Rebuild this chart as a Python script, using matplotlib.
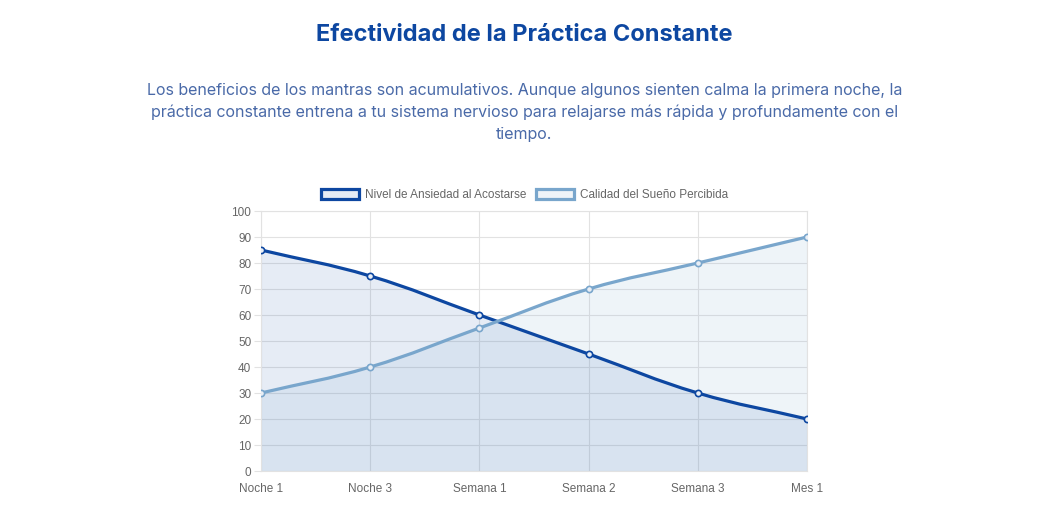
import numpy as np
import matplotlib.pyplot as plt
from matplotlib.path import Path
from matplotlib.patches import PathPatch, Patch

labels = ["Noche 1", "Noche 3", "Semana 1", "Semana 2", "Semana 3", "Mes 1"]
ansiedad = [85, 75, 60, 45, 30, 20]
sueno = [30, 40, 55, 70, 80, 90]

dark = "#0d47a1"
light = "#79a6cc"

fig = plt.figure(figsize=(10.49, 5.14), dpi=100)
fig.text(0.5, 0.932, "Efectividad de la Práctica Constante", ha="center", va="center",
         fontsize=17, fontweight="bold", color="#0d47a1", family="Inter")
sub = ("Los beneficios de los mantras son acumulativos. Aunque algunos sienten calma la primera noche, la\n"
       "práctica constante entrena a tu sistema nervioso para relajarse más rápida y profundamente con el\n"
       "tiempo.")
fig.text(0.5, 0.782, sub, ha="center", va="center", fontsize=11.5, color="#4a6aa8",
         family="Inter", linespacing=1.55)

ax = fig.add_axes([261/1049, 1-471/514, 546/1049, 260/514])
sx, sy = 546/5, 260/100  # pixels per unit


def smooth_path(ys, close=False):
    xs = np.arange(len(ys), dtype=float)
    ys = np.array(ys, dtype=float)
    P = np.c_[xs*sx, ys*sy]
    n = len(P)
    cin, cout = [None]*n, [None]*n
    for i in range(n):
        prev = P[max(i-1, 0)]
        nxt = P[min(i+1, n-1)]
        d01 = np.hypot(*(P[i]-prev))
        d12 = np.hypot(*(nxt-P[i]))
        s = d01 + d12
        fa = 0.4*d01/s if s else 0
        fb = 0.4*d12/s if s else 0
        cin[i] = P[i] - fa*(nxt-prev)
        cout[i] = P[i] + fb*(nxt-prev)
    verts = [P[0]]
    codes = [Path.MOVETO]
    for i in range(n-1):
        verts += [cout[i], cin[i+1], P[i+1]]
        codes += [Path.CURVE4]*3
    if close:
        verts += [(P[-1][0], 0), (P[0][0], 0), P[0]]
        codes += [Path.LINETO, Path.LINETO, Path.CLOSEPOLY]
    verts = np.array(verts) / [sx, sy]
    return Path(verts, codes)


for ys, c, fa in [(ansiedad, dark, 0.1), (sueno, light, 0.12)]:
    ax.add_patch(PathPatch(smooth_path(ys, True), facecolor=c, alpha=fa, edgecolor="none", zorder=1))
for ys, c in [(ansiedad, dark), (sueno, light)]:
    ax.add_patch(PathPatch(smooth_path(ys), facecolor="none", edgecolor=c, lw=2.3, zorder=3))
    ax.plot(range(len(ys)), ys, "o", ms=4.5, mfc="#e9eef5", mec=c, mew=1.2, zorder=4)

ax.set_xlim(0, 5)
ax.set_ylim(0, 100)
ax.set_xticks(range(len(labels)))
ax.set_xticklabels(labels)
ax.set_yticks(range(0, 101, 10))
ax.grid(color="#e2e2e2", lw=0.8)
ax.set_axisbelow(True)
for s in ax.spines.values():
    s.set_color("#e2e2e2")
ax.tick_params(colors="#666666", labelsize=8.5, length=5, width=0.8)
ax.tick_params(axis="x", length=0, pad=9)
ax.tick_params(axis="y", color="#e2e2e2", labelcolor="#666666", pad=2)
for t in ax.get_xticklabels() + ax.get_yticklabels():
    t.set_family("Liberation Sans")

handles = [Patch(facecolor="#e6ecf5", edgecolor=dark, lw=2.3, label="Nivel de Ansiedad al Acostarse"),
           Patch(facecolor="#f0f4f8", edgecolor=light, lw=2.3, label="Calidad del Sueño Percibida")]
leg = fig.legend(handles=handles, loc="center", bbox_to_anchor=(0.5, 1-195/514), ncol=2, frameon=False,
                 prop={"family": "Liberation Sans", "size": 8.5}, handlelength=3.2, handleheight=1.0,
                 columnspacing=0.8, handletextpad=0.5)
for t in leg.get_texts():
    t.set_color("#666666")

fig.savefig("out.png", dpi=100)
